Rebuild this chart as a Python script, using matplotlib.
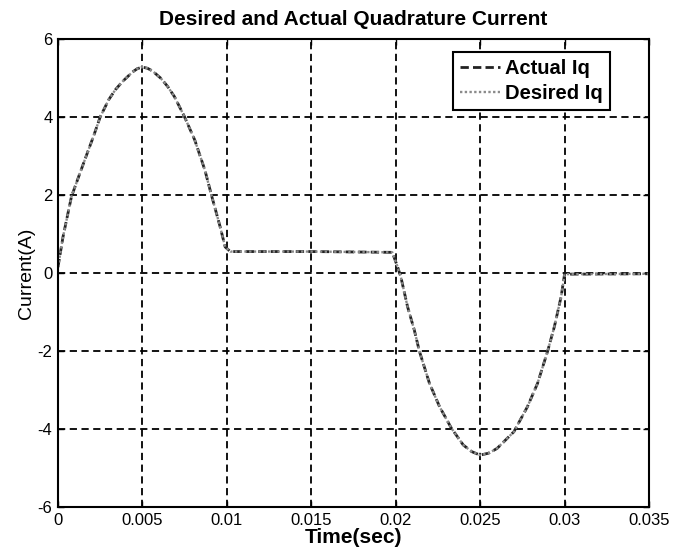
import matplotlib
matplotlib.use("Agg")
import matplotlib.pyplot as plt

# time (s) and current (A)
t = [0.0, 0.0003, 0.0008, 0.0013, 0.0018, 0.0021, 0.0025, 0.003, 0.0034, 0.0038,
     0.0044, 0.0047, 0.005, 0.0053, 0.0056, 0.0061, 0.0065, 0.0069, 0.0075, 0.0081,
     0.0087, 0.0091, 0.0096, 0.0099, 0.0102,
     0.015, 0.0198, 0.0201, 0.0203, 0.0207, 0.0211, 0.0214, 0.022, 0.0226, 0.0233,
     0.024, 0.0245, 0.025, 0.0255, 0.026, 0.027, 0.0278, 0.0284, 0.029, 0.0294,
     0.0298, 0.030, 0.035]
iq_actual = [0.15, 0.93, 1.96, 2.56, 3.15, 3.5, 4.0, 4.44, 4.7, 4.9,
             5.15, 5.24, 5.28, 5.25, 5.18, 4.99, 4.78, 4.52, 4.0, 3.41,
             2.64, 1.98, 1.19, 0.67, 0.55,
             0.55, 0.53, 0.17, -0.09, -0.86, -1.46, -2.0, -2.83, -3.43, -3.98,
             -4.41, -4.58, -4.67, -4.62, -4.5, -4.07, -3.43, -2.83, -2.0, -1.37,
             -0.6, -0.03, -0.02]
iq_desired = list(iq_actual)

xticks = [0, 0.005, 0.01, 0.015, 0.02, 0.025, 0.03, 0.035]
xticklabels = ["0", "0.005", "0.01", "0.015", "0.02", "0.025", "0.03", "0.035"]
yticks = [-6, -4, -2, 0, 2, 4, 6]

plt.rcParams['font.family'] = ['Liberation Sans', 'DejaVu Sans']
plt.rcParams['axes.unicode_minus'] = False

fig = plt.figure(figsize=(6.82, 5.55), dpi=100)
ax = fig.add_axes([0.085, 0.0865, 0.8666, 0.8432])

ax.plot(t, iq_actual, color="#222222", lw=2.0, linestyle=(0, (3, 1.5)), label="Actual Iq")
ax.plot(t, iq_desired, color="#8a8a8a", lw=1.7, linestyle=(0, (1, 1)), label="Desired Iq")

ax.set_xlim(0, 0.035)
ax.set_ylim(-6, 6)
ax.set_xticks(xticks)
ax.set_xticklabels(xticklabels)
ax.set_yticks(yticks)
ax.tick_params(direction="in", top=True, right=True, length=4, width=1, labelsize=12, pad=4)
ax.grid(True, color="black", linestyle=(0, (4, 2.5)), linewidth=1.3)
for s in ax.spines.values():
    s.set_linewidth(1.5)

ax.set_title("Desired and Actual Quadrature Current", fontsize=15, fontweight="bold", pad=10)
ax.set_xlabel("Time(sec)", fontsize=15, fontweight="bold", labelpad=0)
ax.set_ylabel("Current(A)", fontsize=14, labelpad=2)

leg = ax.legend(loc="upper right", bbox_to_anchor=(0.934, 0.973), borderaxespad=0,
                fancybox=False, framealpha=1, edgecolor="black", handlelength=2.0,
                handletextpad=0.25, labelspacing=0.3, borderpad=0.35,
                prop={"weight": "bold", "size": 14.5})
leg.get_frame().set_linewidth(1.5)

fig.savefig("out.png", dpi=100)
